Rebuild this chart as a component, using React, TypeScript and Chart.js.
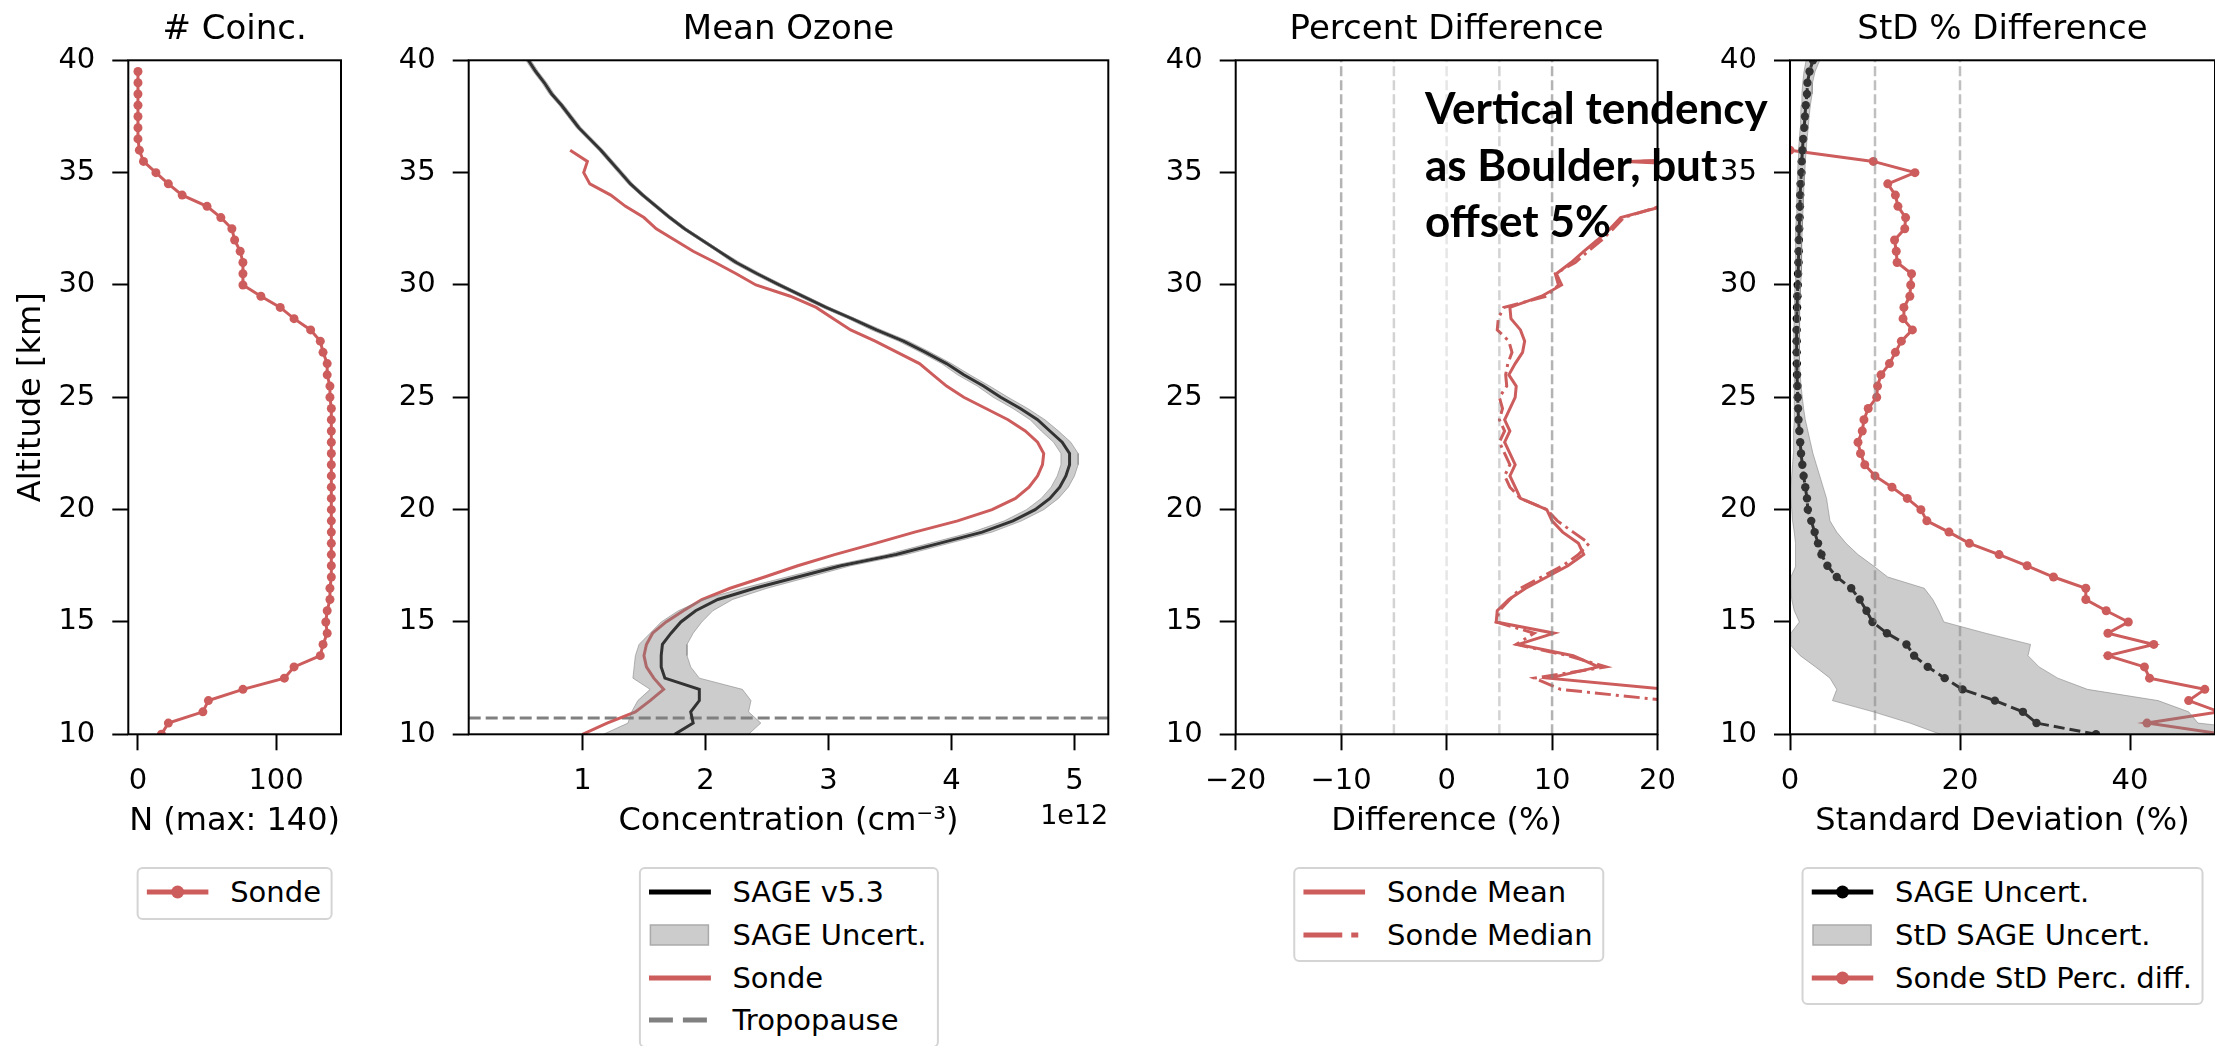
import React, { useEffect, useRef } from 'react';
import { Chart, registerables } from 'chart.js';

Chart.register(...registerables);
Chart.defaults.font.family = "'DejaVu Sans', sans-serif";
Chart.defaults.color = '#000';

// ---------- data ----------
const ALT_SAGE = [
  10, 10.5, 11, 11.5, 12, 12.5, 13, 13.5, 14, 14.5,
  15, 15.5, 16, 16.5, 17, 17.5, 18, 18.5, 19, 19.5,
  20, 20.5, 21, 21.5, 22, 22.5, 23, 23.5, 24, 24.5,
  25, 25.5, 26, 26.5, 27, 27.5, 28, 28.5, 29, 29.5,
  30, 30.5, 31, 31.5, 32, 32.5, 33, 33.5, 34, 34.5,
  35, 35.5, 36, 36.5, 37, 37.5, 38, 38.5, 39, 39.5,
  40, 40.5,
];
const ALT_SONDE = ALT_SAGE.slice(0, 53); // 10 .. 36 km
const ALT_COINC = ALT_SAGE.slice(0, 60); // 10 .. 39.5 km
const ALT_STD = ALT_SAGE.slice(0, 61); // 10 .. 40 km

// number of coincidences per level
const COINC_N = [
  17, 22, 47, 51, 76, 106, 113, 132, 134, 137,
  136, 137, 139, 139, 140, 140, 140, 140, 140, 140,
  140, 140, 140, 140, 140, 140, 140, 140, 140, 140,
  139, 139, 137, 137, 134, 132, 125, 113, 103, 89,
  76, 76, 76, 74, 70, 68, 60, 50, 32, 22,
  13, 4, 1, 0, 0, 0, 0, 0, 0, 0,
];

// mean ozone concentration, units of 1e12 cm^-3
const SAGE_MEAN = [
  1.75, 1.90, 1.88, 1.95, 1.95, 1.67, 1.64, 1.64, 1.65, 1.72,
  1.80, 1.92, 2.10, 2.40, 2.75, 3.10, 3.55, 3.90, 4.25, 4.50,
  4.68, 4.80, 4.88, 4.93, 4.96, 4.96, 4.90, 4.80, 4.70, 4.56,
  4.40, 4.26, 4.10, 3.96, 3.79, 3.61, 3.39, 3.19, 2.98, 2.79,
  2.60, 2.42, 2.25, 2.11, 1.97, 1.83, 1.71, 1.60, 1.49, 1.39,
  1.31, 1.23, 1.15, 1.06, 0.97, 0.90, 0.83, 0.75, 0.69, 0.62,
  0.56, 0.50,
];
const SAGE_LO = [
  1.17, 1.37, 1.40, 1.45, 1.55, 1.41, 1.42, 1.43, 1.46, 1.55,
  1.64, 1.78, 1.98, 2.30, 2.66, 3.02, 3.47, 3.82, 4.17, 4.43,
  4.61, 4.73, 4.81, 4.86, 4.89, 4.89, 4.83, 4.73, 4.64, 4.50,
  4.34, 4.21, 4.05, 3.92, 3.75, 3.57, 3.35, 3.16, 2.95, 2.76,
  2.57, 2.39, 2.22, 2.09, 1.95, 1.81, 1.69, 1.58, 1.47, 1.37,
  1.29, 1.21, 1.13, 1.04, 0.95, 0.88, 0.81, 0.73, 0.67, 0.60,
  0.54, 0.48,
];
const SAGE_HI = [
  2.35, 2.45, 2.35, 2.37, 2.30, 1.95, 1.88, 1.85, 1.85, 1.90,
  1.97, 2.06, 2.22, 2.50, 2.84, 3.18, 3.63, 3.98, 4.33, 4.57,
  4.75, 4.87, 4.95, 5.00, 5.03, 5.03, 4.97, 4.87, 4.76, 4.62,
  4.46, 4.31, 4.15, 4.00, 3.83, 3.65, 3.43, 3.22, 3.01, 2.82,
  2.63, 2.45, 2.28, 2.13, 1.99, 1.85, 1.73, 1.62, 1.51, 1.41,
  1.33, 1.25, 1.17, 1.08, 0.99, 0.92, 0.85, 0.77, 0.71, 0.64,
  0.58, 0.52,
];
const SONDE_MEAN = [
  1.00, 1.20, 1.43, 1.55, 1.66, 1.58, 1.52, 1.50, 1.52, 1.57,
  1.68, 1.82, 1.97, 2.20, 2.48, 2.75, 3.05, 3.38, 3.70, 4.05,
  4.33, 4.52, 4.63, 4.70, 4.74, 4.75, 4.70, 4.60, 4.46, 4.28,
  4.10, 3.96, 3.85, 3.74, 3.56, 3.38, 3.18, 3.04, 2.90, 2.69,
  2.41, 2.25, 2.08, 1.90, 1.75, 1.60, 1.50, 1.35, 1.23, 1.06,
  1.01, 1.04, 0.90,
];
const TROPOPAUSE_ALT = 10.72;

// percent difference sonde vs SAGE
const DIFF_MEAN = [
  45, 40, 35, 28, 21, 9.7, 14.4, 12.0, 6.8, 10.2,
  4.7, 4.8, 5.9, 7.5, 9.5, 11.5, 13.0, 12.5, 11.0, 10.0,
  9.5, 7.0, 6.5, 6.0, 6.5, 6.0, 5.5, 6.0, 5.5, 6.0,
  6.5, 6.6, 5.9, 6.5, 7.2, 7.4, 7.0, 6.1, 6.0, 9.0,
  10.9, 10.4, 11.8, 13.0, 14.3, 15.5, 16.5, 20.5, 28, 30,
  40, 17, 60,
];
const DIFF_MEDIAN = [
  40, 35, 30, 21, 10.8, 8.3, 15.1, 11.5, 6.6, 8.3,
  4.7, 5.0, 6.0, 7.0, 9.0, 11.0, 12.5, 13.5, 12.0, 10.5,
  9.5, 7.0, 6.0, 5.5, 6.0, 5.5, 5.0, 5.5, 5.0, 5.3,
  5.0, 5.7, 5.6, 5.8, 6.2, 5.9, 4.8, 4.9, 5.4, 9.5,
  10.6, 10.3, 12.2, 13.4, 14.7, 15.8, 16.8, 20.2, 26, 28,
  38, 18, 60,
];
const DIFF_REF_LINES = [-10, -5, 0, 5, 10];
const DIFF_REF_ALPHA = [0.6, 0.35, 0.2, 0.35, 0.6];

// standard deviations (%)
const STD_SAGE = [
  36.0, 29.0, 27.4, 24.1, 20.3, 18.2, 16.2, 14.6, 13.7, 11.4,
  9.7, 9.0, 8.2, 7.2, 5.5, 4.4, 3.7, 3.3, 2.9, 2.5,
  2.1, 2.0, 1.8, 1.6, 1.45, 1.3, 1.2, 1.1, 1.0, 0.95,
  0.91, 0.87, 0.83, 0.8, 0.78, 0.78, 0.78, 0.8, 0.83, 0.87,
  0.91, 0.95, 1.0, 1.02, 1.04, 1.08, 1.12, 1.17, 1.2, 1.25,
  1.34, 1.38, 1.46, 1.55, 1.67, 1.76, 1.85, 2.0, 2.05, 2.3,
  2.7,
];
const STD_SAGE_LO = [
  17.7, 14.1, 9.8, 5.0, 5.5, 4.7, 3.0, 1.2, 0.0, 0.1,
  1.1, 0.5, 0.2, 0.1, 0.1, 0.7, 0.7, 0.6, 0.5, 0.3,
  0.2, 0.1, 0.1, 0.2, 0.3, 0.4, 0.4, 0.45, 0.5, 0.5,
  0.5, 0.5, 0.5, 0.5, 0.45, 0.45, 0.45, 0.5, 0.5, 0.55,
  0.6, 0.6, 0.65, 0.65, 0.7, 0.7, 0.75, 0.8, 0.8, 0.85,
  0.9, 0.95, 1.0, 1.1, 1.2, 1.25, 1.3, 1.4, 1.5, 1.65,
  1.9,
];
const STD_SAGE_HI = [
  60, 48, 46.9, 43.3, 35.0, 31.5, 29.3, 28.0, 28.3, 23.0,
  18.1, 17.5, 16.8, 15.8, 11.5, 9.8, 8.0, 6.6, 5.5, 4.7,
  4.5, 4.3, 3.9, 3.5, 3.1, 2.7, 2.4, 2.1, 1.8, 1.6,
  1.45, 1.3, 1.2, 1.15, 1.1, 1.1, 1.1, 1.1, 1.15, 1.2,
  1.25, 1.3, 1.35, 1.4, 1.4, 1.45, 1.5, 1.55, 1.6, 1.65,
  1.75, 1.8, 1.9, 2.0, 2.15, 2.25, 2.4, 2.6, 2.65, 2.95,
  3.5,
];
const STD_SONDE = [
  51, 42, 50.5, 46.9, 48.8, 42.3, 41.7, 37.4, 42.8, 37.4,
  39.8, 37.2, 34.8, 34.8, 31.0, 27.9, 24.6, 21.1, 18.7, 16.1,
  15.4, 13.8, 12.0, 10.0, 8.8, 8.3, 8.0, 8.5, 8.7, 9.2,
  10.2, 10.3, 10.7, 11.7, 12.4, 13.1, 14.4, 13.3, 13.4, 14.1,
  14.2, 14.3, 12.6, 12.5, 12.3, 13.5, 13.6, 12.7, 12.4, 11.5,
  14.7, 9.8, 0,
];
const STD_REF_LINES = [10, 20];

// axis limits and ticks
const ALT_RANGE = [10, 40];
const ALT_TICKS = [10, 15, 20, 25, 30, 35, 40];
const COINC_RANGE = [-7, 147];
const COINC_TICKS = [0, 100];
const CONC_RANGE = [0.075, 5.275];
const CONC_TICKS = [1, 2, 3, 4, 5];
const DIFF_RANGE = [-20, 20];
const DIFF_TICKS = [-20, -10, 0, 10, 20];
const STD_RANGE = [0, 50];
const STD_TICKS = [0, 20, 40];

// ---------- styling ----------
const RED = '#cd5c5c';
const BAND_FILL = 'rgba(128,128,128,0.4)';
const BAND_EDGE = 'rgba(128,128,128,0.55)';
const CANVAS_H = 860;
const PLOT_TOP = 60.3;
const PLOT_BOTTOM = 734.3;
const TICK_FONT = 29;
const LABEL_FONT = 32;
const TITLE_FONT = 34;

const pts = (xs: number[], ys: number[]) => xs.map((x, i) => ({ x, y: ys[i] }));
const fmt = (v: number) => (v < 0 ? '\u2212' + Math.abs(v) : String(v));

const frame = {
  id: 'frame',
  afterDraw(chart: any) {
    const { ctx, chartArea: a } = chart;
    ctx.save();
    ctx.strokeStyle = '#000';
    ctx.lineWidth = 2;
    ctx.strokeRect(a.left, a.top, a.right - a.left, a.bottom - a.top);
    ctx.restore();
  },
};

const offsetText = {
  id: 'offsetText',
  afterDraw(chart: any, _args: any, opts: any) {
    if (!opts || !opts.text) return;
    const { ctx, chartArea: a } = chart;
    ctx.save();
    ctx.font = `27px 'DejaVu Sans'`;
    ctx.fillStyle = '#000';
    ctx.textAlign = 'right';
    ctx.textBaseline = 'middle';
    ctx.fillText(opts.text, a.right, 817);
    ctx.restore();
  },
};

function tickGrid() {
  return {
    display: true,
    drawOnChartArea: false,
    drawTicks: true,
    tickLength: 16,
    tickWidth: 2,
    tickColor: '#000',
  };
}

function xAxis(range: number[], ticks: number[], title: string) {
  return {
    type: 'linear',
    position: 'bottom',
    min: range[0],
    max: range[1],
    afterBuildTicks: (s: any) => {
      s.ticks = ticks.map((v) => ({ value: v }));
    },
    afterFit: (s: any) => {
      s.height = CANVAS_H - PLOT_BOTTOM;
    },
    grid: tickGrid(),
    border: { display: false },
    ticks: {
      font: { size: TICK_FONT },
      color: '#000',
      padding: 14,
      maxRotation: 0,
      minRotation: 0,
      autoSkip: false,
      callback: (v: number) => fmt(v),
    },
    title: {
      display: true,
      text: title,
      font: { size: LABEL_FONT },
      color: '#000',
      padding: { top: 0, bottom: 19 },
    },
  };
}

function yAxis(width: number, title?: string) {
  return {
    type: 'linear',
    position: 'left',
    min: ALT_RANGE[0],
    max: ALT_RANGE[1],
    afterBuildTicks: (s: any) => {
      s.ticks = ALT_TICKS.map((v) => ({ value: v }));
    },
    afterFit: (s: any) => {
      s.width = width;
    },
    grid: tickGrid(),
    border: { display: false },
    ticks: {
      font: { size: TICK_FONT },
      color: '#000',
      padding: 17,
      autoSkip: false,
      callback: (v: number) => fmt(v),
    },
    title: title
      ? { display: true, text: title, font: { size: LABEL_FONT }, color: '#000', padding: { top: 12, bottom: 0 } }
      : { display: false },
  };
}

function makeConfig(opts: {
  title: string;
  yWidth: number;
  padRight: number;
  yTitle?: string;
  xRange: number[];
  xTicks: number[];
  xTitle: string;
  datasets: any[];
  offset?: string;
}) {
  const titleLine = TITLE_FONT * 1.2;
  const padTop = 9.8;
  return {
    type: 'line',
    data: { datasets: opts.datasets },
    options: {
      indexAxis: 'y',
      responsive: false,
      animation: false,
      events: [],
      layout: { padding: { left: 0, right: opts.padRight, top: 0, bottom: 0 }, autoPadding: false },
      elements: { line: { tension: 0 }, point: { radius: 0 } },
      plugins: {
        legend: { display: false },
        tooltip: { enabled: false },
        title: {
          display: true,
          text: opts.title,
          fullSize: false,
          color: '#000',
          font: { size: TITLE_FONT, weight: 'normal' },
          padding: { top: padTop, bottom: PLOT_TOP - padTop - titleLine },
        },
        offsetText: { text: opts.offset || '' },
      },
      scales: {
        x: xAxis(opts.xRange, opts.xTicks, opts.xTitle),
        y: yAxis(opts.yWidth, opts.yTitle),
      },
    },
    plugins: [frame, offsetText],
  };
}

function vLine(x: number, color: string, width: number, dash: number[]) {
  return {
    data: [
      { x, y: ALT_RANGE[0] },
      { x, y: ALT_RANGE[1] },
    ],
    borderColor: color,
    borderWidth: width,
    borderDash: dash,
    pointRadius: 0,
    fill: false,
    clip: 0,
  };
}

function band(lo: number[], hi: number[], alt: number[]) {
  return {
    data: [...pts(lo, alt), ...pts(hi, alt).reverse()],
    fill: 'shape',
    backgroundColor: BAND_FILL,
    borderColor: BAND_EDGE,
    borderWidth: 1,
    pointRadius: 0,
    clip: 0,
  };
}

const configs = {
  coinc: makeConfig({
    title: '# Coinc.',
    yWidth: 128.3,
    padRight: 20,
    yTitle: 'Altitude [km]',
    xRange: COINC_RANGE,
    xTicks: COINC_TICKS,
    xTitle: 'N (max: 140)',
    datasets: [
      {
        data: pts(COINC_N, ALT_COINC),
        borderColor: RED,
        borderWidth: 3,
        pointRadius: 4.5,
        pointBackgroundColor: RED,
        pointBorderWidth: 0,
        fill: false,
        clip: 0,
      },
    ],
  }),
  ozone: makeConfig({
    title: 'Mean Ozone',
    yWidth: 108.7,
    padRight: 21.7,
    xRange: CONC_RANGE,
    xTicks: CONC_TICKS,
    xTitle: 'Concentration (cm\u207B\u00B3)',
    offset: '1e12',
    datasets: [
      band(SAGE_LO, SAGE_HI, ALT_SAGE),
      { data: pts(SAGE_MEAN, ALT_SAGE), borderColor: '#000', borderWidth: 3, pointRadius: 0, fill: false, clip: 0 },
      { data: pts(SONDE_MEAN, ALT_SONDE), borderColor: RED, borderWidth: 3, pointRadius: 0, fill: false, clip: 0 },
      {
        data: [
          { x: CONC_RANGE[0], y: TROPOPAUSE_ALT },
          { x: CONC_RANGE[1], y: TROPOPAUSE_ALT },
        ],
        borderColor: 'rgb(128,128,128)',
        borderWidth: 3,
        borderDash: [12, 5],
        pointRadius: 0,
        fill: false,
        clip: 0,
      },
    ],
  }),
  diff: makeConfig({
    title: 'Percent Difference',
    yWidth: 105.7,
    padRight: 28,
    xRange: DIFF_RANGE,
    xTicks: DIFF_TICKS,
    xTitle: 'Difference (%)',
    datasets: [
      ...DIFF_REF_LINES.map((x, i) => vLine(x, `rgba(128,128,128,${DIFF_REF_ALPHA[i]})`, 2.5, [10, 4])),
      { data: pts(DIFF_MEAN, ALT_SONDE), borderColor: RED, borderWidth: 3, pointRadius: 0, fill: false, clip: 0 },
      {
        data: pts(DIFF_MEDIAN, ALT_SONDE),
        borderColor: RED,
        borderWidth: 3,
        borderDash: [16, 5, 3, 5],
        pointRadius: 0,
        fill: false,
        clip: 0,
      },
    ],
  }),
  std: makeConfig({
    title: 'StD % Difference',
    yWidth: 110,
    padRight: 0,
    xRange: STD_RANGE,
    xTicks: STD_TICKS,
    xTitle: 'Standard Deviation (%)',
    datasets: [
      ...STD_REF_LINES.map((x) => vLine(x, 'rgba(128,128,128,0.5)', 2.5, [10, 4])),
      band(STD_SAGE_LO, STD_SAGE_HI, ALT_STD),
      {
        data: pts(STD_SAGE, ALT_STD),
        borderColor: '#000',
        borderWidth: 3,
        borderDash: [11, 5],
        pointRadius: 4.2,
        pointBackgroundColor: '#000',
        pointBorderWidth: 0,
        fill: false,
        clip: 0,
      },
      {
        data: pts(STD_SONDE, ALT_SONDE),
        borderColor: RED,
        borderWidth: 3,
        pointRadius: 4.5,
        pointBackgroundColor: RED,
        pointBorderWidth: 0,
        fill: false,
        clip: 0,
      },
    ],
  }),
};

function ChartCanvas({ left, width, config }: { left: number; width: number; config: any }) {
  const ref = useRef<HTMLCanvasElement | null>(null);
  useEffect(() => {
    if (!ref.current) return;
    const chart = new Chart(ref.current, config);
    return () => chart.destroy();
  }, [config]);
  return (
    <canvas
      ref={ref}
      width={width}
      height={CANVAS_H}
      style={{ position: 'absolute', left, top: 0, width, height: CANVAS_H }}
    />
  );
}

// ---------- legends ----------
type Sample =
  | { kind: 'line'; color: string; width: number; dash?: number[]; marker?: number }
  | { kind: 'patch'; fill: string; stroke: string };

function SampleIcon({ s }: { s: Sample }) {
  const w = 62;
  const h = 42;
  if (s.kind === 'patch') {
    return (
      <svg width={w} height={h} style={{ flex: 'none', marginRight: 22 }}>
        <rect x={1.5} y={11} width={w - 4} height={20} fill={s.fill} stroke={s.stroke} strokeWidth={1.5} />
      </svg>
    );
  }
  return (
    <svg width={w} height={h} style={{ flex: 'none', marginRight: 22 }}>
      <line
        x1={0}
        y1={h / 2}
        x2={w}
        y2={h / 2}
        stroke={s.color}
        strokeWidth={s.width}
        strokeDasharray={s.dash ? s.dash.join(' ') : undefined}
      />
      {s.marker ? <circle cx={w / 2} cy={h / 2} r={s.marker} fill={s.color} /> : null}
    </svg>
  );
}

function Legend({ cx, items }: { cx: number; items: { label: string; sample: Sample }[] }) {
  return (
    <div
      style={{
        position: 'absolute',
        left: cx,
        top: 867,
        transform: 'translateX(-50%)',
        border: '2px solid #d4d4d4',
        borderRadius: 6,
        background: 'rgba(255,255,255,0.8)',
        padding: '2px 10px 4px 8px',
        fontFamily: "'DejaVu Sans', sans-serif",
        fontSize: 29,
        color: '#000',
        whiteSpace: 'nowrap',
      }}
    >
      {items.map((it) => (
        <div key={it.label} style={{ display: 'flex', alignItems: 'center', height: 42.7 }}>
          <SampleIcon s={it.sample} />
          <span>{it.label}</span>
        </div>
      ))}
    </div>
  );
}

export default function App() {
  return (
    <div
      style={{
        position: 'absolute',
        left: 0,
        top: 0,
        width: 2215,
        height: 1046,
        overflow: 'hidden',
        background: '#fff',
      }}
    >
      <ChartCanvas left={0} width={361} config={configs.coinc} />
      <ChartCanvas left={360} width={770} config={configs.ozone} />
      <ChartCanvas left={1130} width={560} config={configs.diff} />
      <ChartCanvas left={1680} width={535} config={configs.std} />

      <Legend cx={234.6} items={[{ label: 'Sonde', sample: { kind: 'line', color: RED, width: 5, marker: 6.5 } }]} />
      <Legend
        cx={788.5}
        items={[
          { label: 'SAGE v5.3', sample: { kind: 'line', color: '#000', width: 5 } },
          { label: 'SAGE Uncert.', sample: { kind: 'patch', fill: 'rgb(204,204,204)', stroke: 'rgb(170,170,170)' } },
          { label: 'Sonde', sample: { kind: 'line', color: RED, width: 5 } },
          { label: 'Tropopause', sample: { kind: 'line', color: 'rgb(128,128,128)', width: 5, dash: [24, 10] } },
        ]}
      />
      <Legend
        cx={1448.8}
        items={[
          { label: 'Sonde Mean', sample: { kind: 'line', color: RED, width: 5 } },
          { label: 'Sonde Median', sample: { kind: 'line', color: RED, width: 5, dash: [39, 9, 7, 9] } },
        ]}
      />
      <Legend
        cx={2002.5}
        items={[
          { label: 'SAGE Uncert.', sample: { kind: 'line', color: '#000', width: 5, marker: 6.5 } },
          { label: 'StD SAGE Uncert.', sample: { kind: 'patch', fill: 'rgb(204,204,204)', stroke: 'rgb(170,170,170)' } },
          { label: 'Sonde StD Perc. diff.', sample: { kind: 'line', color: RED, width: 5, marker: 6.5 } },
        ]}
      />

      <div
        style={{
          position: 'absolute',
          left: 1425,
          top: 79,
          fontFamily: 'Lato, sans-serif',
          fontWeight: 700,
          fontSize: 44,
          lineHeight: '56.7px',
          color: '#000',
          whiteSpace: 'pre',
        }}
      >
        {'Vertical tendency\nas Boulder, but\noffset 5%'}
      </div>
    </div>
  );
}
